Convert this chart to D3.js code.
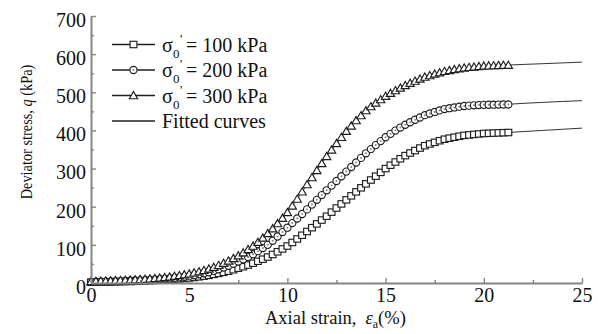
<!DOCTYPE html>
<html>
<head>
<meta charset="utf-8">
<script src="https://cdn.jsdelivr.net/npm/d3@7"></script>
<style>
  body { margin: 0; background: #fff; }
  svg { display: block; }
  text { font-family: "Liberation Serif", "Times New Roman", serif; fill: #111; }
</style>
</head>
<body>
<svg id="chart" width="598" height="334"></svg>
<script>
// Axial strain (%) of the measured points
const strain = [
  0, 0.25, 0.5, 0.75, 1, 1.25, 1.5, 1.75,
  2, 2.25, 2.5, 2.75, 3, 3.25, 3.5, 3.75,
  4, 4.25, 4.5, 4.75, 5, 5.25, 5.5, 5.75,
  6, 6.25, 6.5, 6.75, 7, 7.25, 7.5, 7.75,
  8, 8.25, 8.5, 8.75, 9, 9.25, 9.5, 9.75,
  10, 10.25, 10.5, 10.75, 11, 11.25, 11.5, 11.75,
  12, 12.25, 12.5, 12.75, 13, 13.25, 13.5, 13.75,
  14, 14.25, 14.5, 14.75, 15, 15.25, 15.5, 15.75,
  16, 16.25, 16.5, 16.75, 17, 17.25, 17.5, 17.75,
  18, 18.25, 18.5, 18.75, 19, 19.25, 19.5, 19.75,
  20, 20.25, 20.5, 20.75, 21, 21.25
];

// Measured deviator stress q (kPa), sigma0' = 100 kPa
const q100 = [
  2, 2.2, 2.5, 2.7, 3, 3.2, 3.5, 3.7,
  4, 4.4, 4.9, 5.4, 6, 6.7, 7.4, 8.2,
  9, 9.9, 10.9, 11.9, 13, 14.5, 16.2, 18,
  20, 22.5, 25.2, 28, 31, 34.7, 38.6, 42.7,
  47, 51.9, 57, 62.4, 68, 74.8, 81.8, 89.3,
  97, 106.2, 115.5, 125.2, 135, 145, 155, 165,
  175, 185.8, 196.5, 207.3, 218, 228.5, 239, 249.5,
  260, 270, 280, 290, 300, 308.8, 317.3, 325.8,
  334, 340.8, 347.3, 353.8, 360, 364.5, 368.8, 373,
  377, 379.7, 382.2, 384.7, 387, 388.3, 389.5, 390.8,
  392, 392.5, 393, 393.5, 394, 394.5
];

// sigma0' = 200 kPa
const q200 = [
  3, 3.2, 3.5, 3.7, 4, 4.5, 5, 5.5,
  6, 6.5, 7, 7.5, 8, 8.9, 9.8, 10.9,
  12, 13.4, 14.8, 16.3, 18, 20.3, 22.7, 25.3,
  28, 31.8, 36, 40.4, 45, 50.5, 56.2, 62,
  68, 75.5, 83.5, 91.5, 100, 110.8, 122, 133.5,
  145, 157, 169, 181, 193, 205.5, 218, 230.5,
  243, 255.3, 267.5, 279.8, 292, 304, 316, 328,
  340, 351, 361.5, 372, 382, 391, 399.5, 407.5,
  415, 421.5, 428, 434, 440, 444.5, 448.5, 452.5,
  456, 458.3, 460.3, 462.3, 464, 465, 465.8, 466.5,
  467, 467.3, 467.5, 467.8, 468, 468
];

// sigma0' = 300 kPa
const q300 = [
  4, 4.5, 5, 5.5, 6, 6.5, 7, 7.5,
  8, 8.7, 9.4, 10.2, 11, 12.1, 13.3, 14.6,
  16, 17.8, 19.7, 21.8, 24, 26.8, 29.8, 33.2,
  37, 41.5, 46.3, 52, 58, 64.5, 71.5, 79.5,
  88, 97, 107, 118, 130, 142.5, 156, 170,
  185, 202, 220, 239, 258, 276.5, 295, 313.5,
  332, 349, 366, 382, 398, 412, 426, 439,
  452, 462.5, 472, 481, 490, 497.5, 504.5, 511.5,
  518, 524, 529.5, 535, 540, 544, 548, 551.5,
  555, 557.5, 560, 562, 564, 565.5, 566.5, 568,
  569, 569.5, 570, 570.5, 571, 571
];

// Fitted curves, sampled at whole-percent strain up to 25 %
const fitStrain = [0, 1, 2, 3, 4, 5, 6, 7, 8, 9, 10, 11, 12, 13, 14, 15, 16, 17, 18, 19, 20, 21, 22, 23, 24, 25];
const fit100 = [2, 3, 4, 6, 9, 13, 20, 31, 47, 68, 97, 135, 175, 218, 260, 300, 334, 360, 377, 387, 392, 394, 397, 400, 403, 406];
const fit200 = [3, 4, 6, 8, 12, 18, 28, 45, 68, 100, 145, 193, 243, 292, 340, 382, 415, 440, 456, 464, 467, 468, 471, 473.5, 476, 478];
const fit300 = [4, 6, 8, 11, 16, 24, 37, 58, 88, 130, 185, 258, 332, 398, 452, 490, 518, 540, 555, 564, 569, 571, 573, 575, 577, 579];

const xTicks = [0, 5, 10, 15, 20, 25];
const xMinorTicks = [2.5, 7.5, 12.5, 17.5, 22.5];
const yTicks = [0, 100, 200, 300, 400, 500, 600, 700];
const yMinorTicks = [50, 150, 250, 350, 450, 550, 650];
const pressures = ["100", "200", "300"];
const markerKinds = ["square", "circle", "triangle"];

const svg = d3.select("#chart");
const x = d3.scaleLinear().domain([0, 25]).range([91, 582]);
const y = d3.scaleLinear().domain([0, 700]).range([283, 16]);

const axisColor = "#858585";
const ink = "#1e1e1e";

// ---- fitted curves (under the markers) ----
const fitLine = d3.line()
  .x((d, i) => x(fitStrain[i]))
  .y(d => y(d))
  .curve(d3.curveMonotoneX);
[fit100, fit200, fit300].forEach(f => {
  svg.append("path")
    .attr("d", fitLine(f))
    .attr("fill", "none")
    .attr("stroke", "#333")
    .attr("stroke-width", 1);
});

// ---- markers ----
function drawMarker(g, kind, cx, cy) {
  if (kind === "square") {
    g.append("rect")
      .attr("x", cx - 3.4).attr("y", cy - 3.2)
      .attr("width", 6.8).attr("height", 6.4)
      .attr("fill", "#fff").attr("stroke", ink).attr("stroke-width", 1.15);
  } else if (kind === "circle") {
    g.append("circle")
      .attr("cx", cx).attr("cy", cy).attr("r", 3.6)
      .attr("fill", "#fff").attr("stroke", ink).attr("stroke-width", 1.15);
    g.append("circle")
      .attr("cx", cx).attr("cy", cy).attr("r", 1)
      .attr("fill", "#888");
  } else {
    g.append("path")
      .attr("d", d3.symbol(d3.symbolTriangle, 30)())
      .attr("transform", `translate(${cx},${cy + 0.8})`)
      .attr("fill", "#fff").attr("stroke", ink).attr("stroke-width", 1.15);
  }
}

[q100, q200, q300].forEach((series, si) => {
  const g = svg.append("g");
  series.forEach((v, i) => drawMarker(g, markerKinds[si], x(strain[i]), y(v)));
});

// ---- axes ----
function styleAxis(g) {
  g.select(".domain").attr("stroke", axisColor).attr("stroke-width", 2);
  g.selectAll(".tick line").attr("stroke", axisColor).attr("stroke-width", 1.4);
  g.selectAll(".tick text").attr("font-size", 20).attr("fill", "#111")
    .attr("font-family", '"Liberation Serif", "Times New Roman", serif');
}

const gxMinor = svg.append("g").attr("transform", `translate(0,${y(0)})`)
  .call(d3.axisBottom(x).tickValues(xMinorTicks).tickSize(-3).tickFormat(""));
gxMinor.select(".domain").remove();
gxMinor.selectAll(".tick line").attr("stroke", axisColor).attr("stroke-width", 1.4);

const gyMinor = svg.append("g").attr("transform", `translate(${x(0)},0)`)
  .call(d3.axisLeft(y).tickValues(yMinorTicks).tickSize(-3).tickFormat(""));
gyMinor.select(".domain").remove();
gyMinor.selectAll(".tick line").attr("stroke", axisColor).attr("stroke-width", 1.4);

const gx = svg.append("g").attr("transform", `translate(0,${y(0)})`)
  .call(d3.axisBottom(x).tickValues(xTicks).tickSize(-5).tickSizeOuter(0).tickPadding(5));
styleAxis(gx);

const gy = svg.append("g").attr("transform", `translate(${x(0)},0)`)
  .call(d3.axisLeft(y).tickValues(yTicks).tickSize(-5).tickSizeOuter(0).tickPadding(5));
styleAxis(gy);
gy.selectAll(".tick text").attr("dy", "0.52em");

// ---- axis titles ----
const xt = svg.append("text")
  .attr("x", 265).attr("y", 324)
  .attr("font-size", 18.5);
xt.append("tspan").text("Axial strain,");
xt.append("tspan").attr("dx", 9).attr("font-style", "italic").text("ε");
xt.append("tspan").attr("font-size", 12).attr("dy", 4).text("a");
xt.append("tspan").attr("dy", -4).text("(%)");

// vertical title, slightly condensed along its length
const yt = svg.append("text")
  .attr("transform", "translate(32,132) rotate(-90) scale(0.87,1)")
  .attr("text-anchor", "middle")
  .attr("font-size", 16.5);
yt.append("tspan").text("Deviator stress, ");
yt.append("tspan").attr("font-style", "italic").text("q");
yt.append("tspan").text(" (kPa)");

// ---- legend ----
const legendRows = [44.5, 70, 95.5, 121];
pressures.forEach((p, i) => {
  const ly = legendRows[i];
  const g = svg.append("g");
  g.append("line").attr("x1", 112).attr("x2", 155).attr("y1", ly).attr("y2", ly)
    .attr("stroke", ink).attr("stroke-width", 1.6);
  drawMarker(g, markerKinds[i], 133.5, ly);
  const t = g.append("text").attr("y", ly + 7).attr("font-size", 20);
  t.append("tspan").attr("x", 162).text("σ");
  t.append("tspan").attr("x", 173).attr("dy", 6).attr("font-size", 13).text("0");
  t.append("tspan").attr("x", 180).attr("dy", -15).attr("font-size", 13).text("'");
  t.append("tspan").attr("x", 186).attr("dy", 9).text("= " + p + " kPa");
});
svg.append("line").attr("x1", 112).attr("x2", 155)
  .attr("y1", legendRows[3]).attr("y2", legendRows[3])
  .attr("stroke", ink).attr("stroke-width", 1.6);
svg.append("text").attr("x", 162).attr("y", legendRows[3] + 7)
  .attr("font-size", 20).text("Fitted curves");
</script>
</body>
</html>
